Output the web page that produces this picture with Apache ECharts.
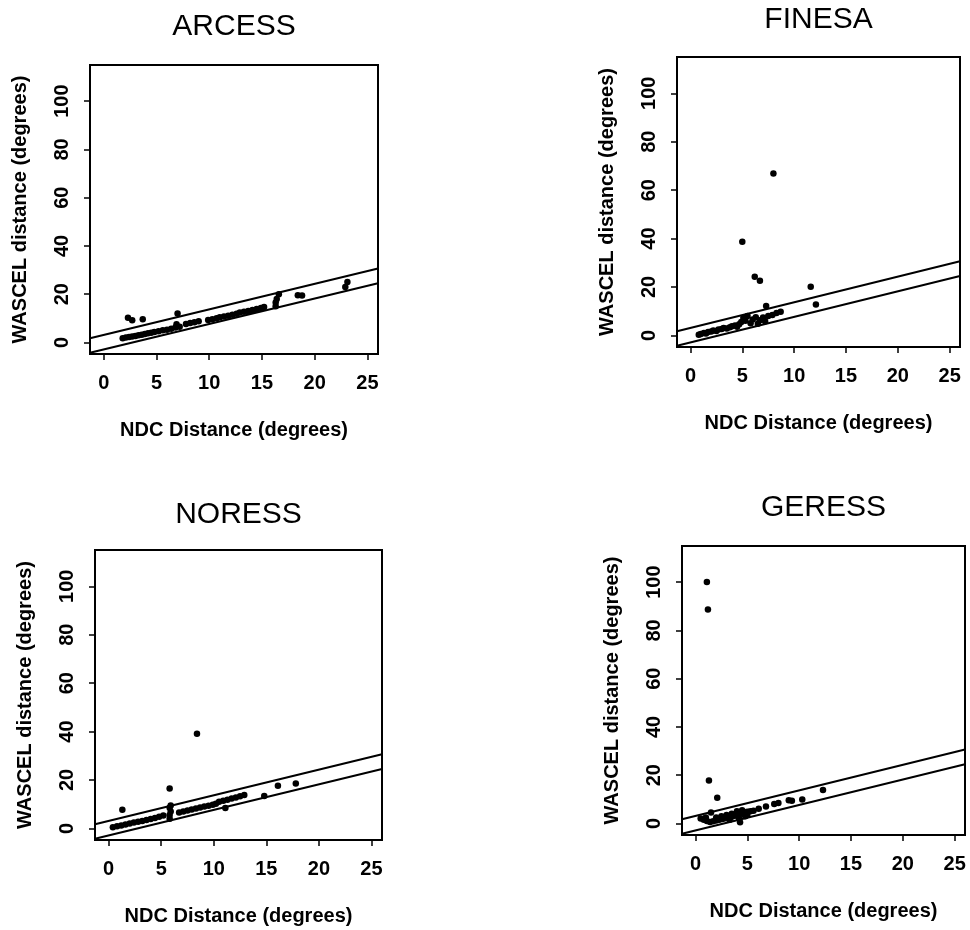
<!DOCTYPE html>
<html>
<head>
<meta charset="utf-8">
<script src="https://cdn.jsdelivr.net/npm/echarts@6/dist/echarts.min.js"></script>
<style>
  html, body { margin: 0; padding: 0; background: #fff; }
  #chart { width: 970px; height: 930px; }
</style>
</head>
<body>
<div id="chart"></div>
<script>
// tick labels shared by all four panels
const xTicks = [0, 5, 10, 15, 20, 25];
const yTicks = [0, 20, 40, 60, 80, 100];

// ARCESS
const arcessNdc = [2.3, 2.7, 3.7, 7.0, 16.3, 16.3, 16.4, 16.6, 18.4, 18.8, 22.9, 23.1,
    1.8, 2.1, 2.4, 2.7, 3.0, 3.3, 3.6, 3.9, 4.2, 4.5, 4.8, 5.2, 5.6, 6.0, 6.4, 6.8, 7.2, 6.9,
    7.8, 8.2, 8.6, 9.0, 9.9, 10.3, 10.7, 11.0, 11.4, 11.8, 12.2, 12.6,
    12.9, 13.3, 13.7, 14.1, 14.5, 14.9, 15.2];
const arcessWascel = [10.2, 9.2, 9.6, 12.0, 15.0, 16.5, 18.0, 20.0, 19.6, 19.5, 23.0, 25.0,
    1.7, 2.0, 2.2, 2.5, 2.7, 3.0, 3.2, 3.5, 3.8, 4.0, 4.3, 4.6, 5.0, 5.3, 5.7, 6.2, 6.5, 7.5,
    7.6, 8.0, 8.4, 8.8, 9.3, 9.6, 10.0, 10.4, 10.7, 11.1, 11.5, 11.9,
    12.4, 12.7, 13.0, 13.4, 13.9, 14.3, 14.7];

// FINESA
const finesaNdc = [8.0, 5.0, 6.2, 6.7, 11.6, 12.1, 7.3,
    0.8, 1.0, 1.3, 1.5, 1.7, 2.0, 2.2, 2.5, 2.7, 3.0, 3.2, 3.5, 3.8, 4.0, 4.3, 4.5, 4.7, 4.9,
    5.1, 5.3, 5.5, 5.8, 6.0, 6.3, 6.5, 6.7, 7.0, 7.2, 7.5, 7.9, 8.3, 8.7];
const finesaWascel = [66.9, 38.7, 24.2, 22.6, 20.1, 12.8, 12.1,
    0.3, 0.6, 1.0, 0.8, 1.4, 1.6, 2.0, 1.8, 2.4, 2.6, 3.0, 2.8, 3.4, 3.8, 4.1, 3.6, 4.6, 5.5,
    7.2, 6.0, 8.0, 5.0, 6.6, 7.5, 4.8, 6.2, 7.4, 5.8, 8.0, 8.4, 9.2, 9.8];

// NORESS
const noressNdc = [8.4, 5.8, 1.3, 16.1, 17.8, 14.8, 11.1,
    0.4, 0.8, 1.2, 1.6, 2.0, 2.4, 2.8, 3.2, 3.6, 4.0, 4.4, 4.8, 5.2,
    5.8, 5.8, 5.9, 5.8, 5.9,
    6.7, 7.1, 7.5, 7.9, 8.3, 8.7, 9.1, 9.5, 9.9, 10.2,
    10.5, 10.9, 11.3, 11.7, 12.1, 12.5, 12.9];
const noressWascel = [39.1, 16.5, 7.7, 17.6, 18.5, 13.4, 8.4,
    0.5, 0.9, 1.2, 1.6, 2.0, 2.4, 2.7, 3.1, 3.5, 3.9, 4.3, 4.8, 5.3,
    4.0, 5.5, 7.0, 8.5, 9.5,
    6.6, 7.0, 7.4, 7.8, 8.2, 8.6, 9.0, 9.4, 9.8, 10.2,
    11.0, 11.4, 11.8, 12.3, 12.8, 13.3, 13.8];

// GERESS
const geressNdc = [1.1, 1.2, 1.3, 2.1, 12.3, 10.3, 9.0, 9.3, 8.0, 7.6, 6.8, 6.1, 4.3,
    0.5, 0.8, 1.1, 1.4, 1.7, 2.0, 2.3, 2.6, 2.9, 3.2, 3.5, 3.8, 4.1, 4.4, 4.7, 5.0, 5.3, 5.6,
    1.5, 2.5, 3.0, 3.5, 4.0, 4.5, 4.8, 5.0, 2.0, 1.0, 3.3, 4.2];
const geressWascel = [100.1, 88.7, 17.8, 10.6, 13.9, 9.9, 9.6, 9.4, 8.5, 8.1, 7.0, 6.1, 0.5,
    2.0, 1.5, 1.0, 0.6, 0.9, 1.2, 1.5, 1.8, 2.1, 2.5, 2.8, 3.2, 3.6, 4.0, 4.4, 4.8, 5.0, 5.3,
    4.5, 3.0, 3.5, 4.0, 5.0, 5.5, 3.0, 3.5, 2.5, 2.5, 1.5, 2.0];

// the two reference lines (slope, intercept)
const upperLine = [1.06, 3.1];
const lowerLine = [1.055, -2.9];

const xRange = [-1.3, 26];
const yRange = [-4.8, 115];

const stations = [
    {name: 'ARCESS', ndc: arcessNdc, wascel: arcessWascel},
    {name: 'FINESA', ndc: finesaNdc, wascel: finesaWascel},
    {name: 'NORESS', ndc: noressNdc, wascel: noressWascel},
    {name: 'GERESS', ndc: geressNdc, wascel: geressWascel},
];

// plot boxes, titles top
const boxes = [
    {left: 90, top: 65, width: 288, height: 289, titleTop: 12},
    {left: 677, top: 57, width: 283, height: 290, titleTop: 5},
    {left: 95, top: 550, width: 287, height: 290, titleTop: 500},
    {left: 682, top: 546, width: 283, height: 289, titleTop: 493},
];

const font = "'Liberation Sans', Arial, Helvetica, sans-serif";

function lineData(coef) {
    return xRange.map((x) => [x, coef[0] * x + coef[1]]);
}

const chart = echarts.init(document.getElementById('chart'), null, {renderer: 'canvas'});

const option = {
    animation: false,
    backgroundColor: '#fff',
    title: [],
    grid: [],
    xAxis: [],
    yAxis: [],
    series: [],
};

stations.forEach((st, i) => {
    const b = boxes[i];
    option.title.push({
        text: st.name,
        left: b.left + b.width / 2,
        top: b.titleTop,
        textAlign: 'center',
        padding: 0,
        textStyle: {
            fontFamily: font,
            fontSize: 30,
            fontWeight: 'normal',
            color: '#000',
        },
    });
    option.grid.push({
        left: b.left,
        top: b.top,
        width: b.width,
        height: b.height,
        show: true,
        borderColor: '#000',
        borderWidth: 2,
        backgroundColor: 'transparent',
    });
    option.xAxis.push({
        type: 'value',
        gridIndex: i,
        min: xRange[0],
        max: xRange[1],
        name: 'NDC Distance (degrees)',
        nameLocation: 'middle',
        nameGap: 66,
        nameTextStyle: {fontFamily: font, fontSize: 20, fontWeight: 'bold', color: '#000'},
        axisLine: {show: false, onZero: false},
        axisTick: {
            show: true,
            length: 6,
            customValues: xTicks,
            lineStyle: {color: '#000', width: 1.5},
        },
        axisLabel: {
            customValues: xTicks,
            margin: 19,
            fontFamily: font,
            fontSize: 20,
            fontWeight: 'bold',
            color: '#000',
        },
        splitLine: {show: false},
    });
    option.yAxis.push({
        type: 'value',
        gridIndex: i,
        min: yRange[0],
        max: yRange[1],
        name: 'WASCEL distance (degrees)',
        nameLocation: 'middle',
        nameGap: 60,
        nameTextStyle: {fontFamily: font, fontSize: 20, fontWeight: 'bold', color: '#000'},
        axisLine: {show: false, onZero: false},
        axisTick: {
            show: true,
            length: 6,
            customValues: yTicks,
            lineStyle: {color: '#000', width: 1.5},
        },
        axisLabel: {
            customValues: yTicks,
            rotate: 90,
            margin: 18,
            fontFamily: font,
            fontSize: 20,
            fontWeight: 'bold',
            color: '#000',
        },
        splitLine: {show: false},
    });
    option.series.push({
        type: 'scatter',
        name: st.name,
        xAxisIndex: i,
        yAxisIndex: i,
        symbol: 'circle',
        symbolSize: 6.5,
        itemStyle: {color: '#000', opacity: 1},
        data: st.ndc.map((x, k) => [x, st.wascel[k]]),
    });
    [upperLine, lowerLine].forEach((coef) => {
        option.series.push({
            type: 'line',
            xAxisIndex: i,
            yAxisIndex: i,
            showSymbol: false,
            clip: true,
            lineStyle: {color: '#000', width: 2},
            data: lineData(coef),
        });
    });
});

chart.setOption(option);
</script>
</body>
</html>
